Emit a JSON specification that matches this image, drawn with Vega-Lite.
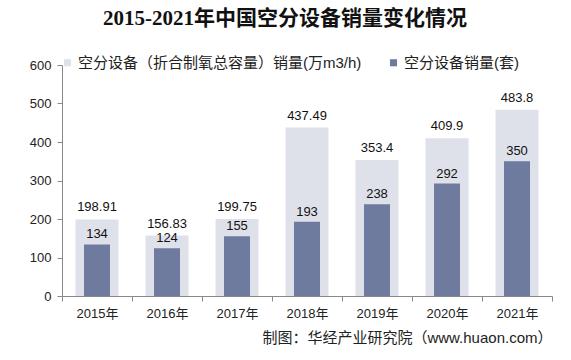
{
  "$schema": "https://vega.github.io/schema/vega-lite/v6.json",
  "width": 490,
  "height": 231,
  "autosize": "none",
  "padding": {"left": 62, "top": 65, "right": 19, "bottom": 64},
  "background": "white",
  "title": {
    "text": "2015-2021年中国空分设备销量变化情况",
    "font": "Liberation Serif, Noto Sans CJK SC",
    "fontSize": 21,
    "fontWeight": "bold",
    "color": "#111111",
    "anchor": "middle",
    "dx": -22,
    "offset": 26
  },
  "data": {
    "values": [
      {"year": "2015年", "series": "空分设备（折合制氧总容量）销量(万m3/h)", "value": 198.91},
      {"year": "2016年", "series": "空分设备（折合制氧总容量）销量(万m3/h)", "value": 156.83},
      {"year": "2017年", "series": "空分设备（折合制氧总容量）销量(万m3/h)", "value": 199.75},
      {"year": "2018年", "series": "空分设备（折合制氧总容量）销量(万m3/h)", "value": 437.49},
      {"year": "2019年", "series": "空分设备（折合制氧总容量）销量(万m3/h)", "value": 353.4},
      {"year": "2020年", "series": "空分设备（折合制氧总容量）销量(万m3/h)", "value": 409.9},
      {"year": "2021年", "series": "空分设备（折合制氧总容量）销量(万m3/h)", "value": 483.8},
      {"year": "2015年", "series": "空分设备销量(套)", "value": 134},
      {"year": "2016年", "series": "空分设备销量(套)", "value": 124},
      {"year": "2017年", "series": "空分设备销量(套)", "value": 155},
      {"year": "2018年", "series": "空分设备销量(套)", "value": 193},
      {"year": "2019年", "series": "空分设备销量(套)", "value": 238},
      {"year": "2020年", "series": "空分设备销量(套)", "value": 292},
      {"year": "2021年", "series": "空分设备销量(套)", "value": 350}
    ]
  },
  "encoding": {
    "x": {
      "field": "year",
      "type": "nominal",
      "sort": null,
      "scale": {"paddingInner": 0, "paddingOuter": 0},
      "axis": {
        "title": "制图：华经产业研究院（www.huaon.com）",
        "titleAnchor": "end",
        "titleAlign": "right",
        "titleFont": "Liberation Sans, Noto Sans CJK SC",
        "titleFontSize": 15,
        "titleFontWeight": "normal",
        "titleColor": "#222222",
        "titlePadding": 10,
        "labelAngle": 0,
        "labelFont": "Liberation Sans, Noto Sans CJK SC",
        "labelFontSize": 13,
        "labelColor": "#222222",
        "labelPadding": 6,
        "tickBand": "extent",
        "domainColor": "#888888",
        "tickColor": "#888888",
        "tickSize": 5
      }
    },
    "y": {
      "field": "value",
      "type": "quantitative",
      "scale": {"domain": [0, 600]},
      "axis": {
        "title": null,
        "grid": false,
        "tickCount": 6,
        "labelFont": "Liberation Sans",
        "labelFontSize": 13,
        "labelColor": "#222222",
        "labelPadding": 6,
        "domainColor": "#888888",
        "tickColor": "#888888",
        "tickSize": 5
      }
    },
    "color": {
      "field": "series",
      "type": "nominal",
      "scale": {
        "domain": ["空分设备（折合制氧总容量）销量(万m3/h)", "空分设备销量(套)"],
        "range": ["#dfe1ea", "#6e7a9e"]
      },
      "legend": {
        "title": null,
        "orient": "none",
        "direction": "horizontal",
        "legendX": -2,
        "legendY": -10,
        "symbolType": "square",
        "symbolSize": 50,
        "symbolStrokeWidth": 0,
        "labelFont": "Liberation Sans, Noto Sans CJK SC",
        "labelFontSize": 15,
        "labelColor": "#222222",
        "labelLimit": 400,
        "columnPadding": 24,
        "labelOffset": 3
      }
    }
  },
  "layer": [
    {
      "transform": [{"filter": "datum.series === '空分设备（折合制氧总容量）销量(万m3/h)'"}],
      "layer": [
        {"mark": {"type": "bar", "size": 43}},
        {
          "mark": {"type": "text", "baseline": "bottom", "dy": -5, "font": "Liberation Sans", "fontSize": 13, "color": "#111111"},
          "encoding": {"text": {"field": "value", "type": "nominal"}, "color": {"value": "#111111"}}
        }
      ]
    },
    {
      "transform": [{"filter": "datum.series === '空分设备销量(套)'"}],
      "layer": [
        {"mark": {"type": "bar", "size": 26}},
        {
          "mark": {"type": "text", "baseline": "bottom", "dy": -3, "font": "Liberation Sans", "fontSize": 13, "color": "#111111"},
          "encoding": {"text": {"field": "value", "type": "nominal"}, "color": {"value": "#111111"}}
        }
      ]
    }
  ],
  "config": {"view": {"stroke": null}}
}
